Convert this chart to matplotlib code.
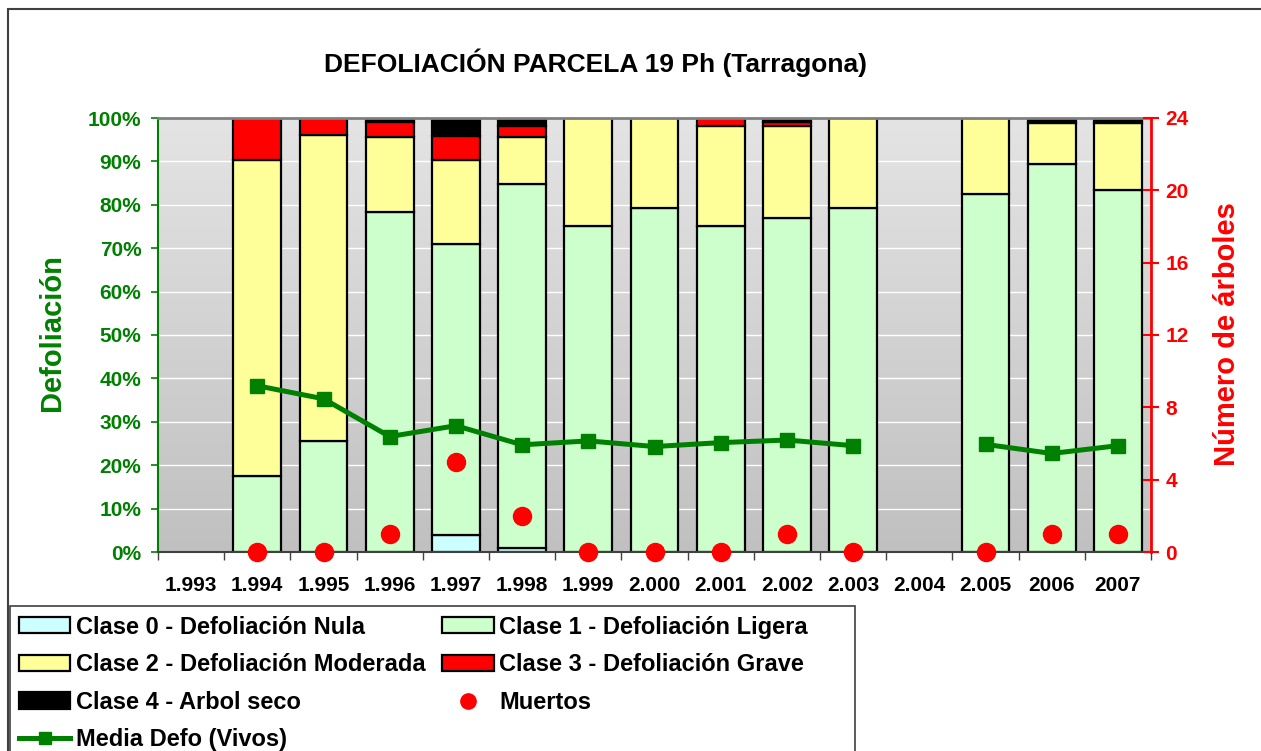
import numpy as np
import matplotlib
matplotlib.use("Agg")
import matplotlib.pyplot as plt
from matplotlib.patches import Patch, Rectangle
from matplotlib.lines import Line2D
from matplotlib.colors import LinearSegmentedColormap

plt.rcParams['font.family'] = ['Liberation Sans', 'DejaVu Sans']
plt.rcParams['font.weight'] = 'bold'

# === Data ===
years = ['1.993', '1.994', '1.995', '1.996', '1.997', '1.998', '1.999', '2.000',
         '2.001', '2.002', '2.003', '2.004', '2.005', '2006', '2007']
clase0 = [0, 0, 0, 0, 3.9, 0.9, 0, 0, 0, 0, 0, 0, 0, 0, 0]
clase1 = [0, 17.4, 25.6, 78.3, 67.1, 84.0, 75.1, 79.3, 75.1, 77.0, 79.2, 0, 82.6, 89.3, 83.4]
clase2 = [0, 73.0, 70.5, 17.4, 19.3, 10.8, 24.9, 20.7, 23.1, 21.2, 20.8, 0, 17.4, 9.6, 15.5]
clase3 = [0, 9.6, 3.9, 3.3, 5.6, 2.5, 0, 0, 1.8, 0.9, 0, 0, 0, 0, 0]
clase4 = [0, 0, 0, 1.0, 4.1, 1.8, 0, 0, 0, 0.9, 0, 0, 0, 1.1, 1.1]
media_defo = [np.nan, 38.3, 35.3, 26.6, 29.1, 24.7, 25.6, 24.3, 25.2, 25.8, 24.5,
              np.nan, 24.8, 22.7, 24.5]
muertos = [np.nan, 0, 0, 1, 5, 2, 0, 0, 0, 1, 0, np.nan, 0, 1, 1]

classes = [
    ('Clase 0 - Defoliación Nula', clase0, '#CCFFFF'),
    ('Clase 1 - Defoliación Ligera', clase1, '#CCFFCC'),
    ('Clase 2 - Defoliación Moderada', clase2, '#FFFF99'),
    ('Clase 3 - Defoliación Grave', clase3, '#FF0000'),
    ('Clase 4 - Arbol seco', clase4, '#000000'),
]

GREEN = '#008000'
RED = '#FF0000'
W, H = 1261, 751

fig = plt.figure(figsize=(W / 100, H / 100), dpi=100)
ax = fig.add_axes([158 / W, 1 - 552 / H, (1151 - 158) / W, (552 - 118) / H])
x = np.arange(len(years))

# gradient background: light at the top, darker at the bottom
grad = np.linspace(0, 1, 256).reshape(-1, 1)
cmap = LinearSegmentedColormap.from_list('bg', ['#e4e4e4', '#c0c0c0'])
ax.imshow(grad, cmap=cmap, aspect='auto', extent=(-0.5, len(years) - 0.5, 0, 100),
          zorder=0, origin='upper')
ax.set_xlim(-0.5, len(years) - 0.5)
ax.set_ylim(0, 100)
for yv in range(10, 100, 10):
    ax.axhline(yv, color='white', lw=1, zorder=1)

# stacked bars
bottom = np.zeros(len(years))
for label, vals, color in classes:
    vals = np.array(vals, dtype=float)
    mask = vals > 0
    ax.bar(x[mask], vals[mask], bottom=bottom[mask], width=0.72, color=color,
           edgecolor='black', linewidth=1.6, zorder=2)
    bottom += vals

# mean defoliation line
ax.plot(x, media_defo, color=GREEN, lw=3.6, marker='s', markersize=10,
        zorder=4, clip_on=False)

# left axis styling
ax.set_yticks(range(0, 101, 10))
ax.set_yticklabels([f'{v}%' for v in range(0, 101, 10)])
ax.tick_params(axis='y', colors=GREEN, labelsize=15, length=5, width=1.2, pad=7)
ax.set_xticks(x)
ax.set_xticklabels(years)
ax.tick_params(axis='x', which='major', length=0, labelsize=15, pad=17, labelcolor='black')
ax.set_xticks(np.arange(-0.5, len(years)), minor=True)
ax.tick_params(axis='x', which='minor', length=6, color='#404040', width=1)
ax.spines['left'].set_color(GREEN)
ax.spines['left'].set_linewidth(1.5)
ax.spines['bottom'].set_color('#404040')
ax.spines['bottom'].set_linewidth(1.5)
ax.spines['top'].set_color('#808080')
ax.spines['top'].set_linewidth(2)
ax.spines['right'].set_visible(False)

# right axis (number of trees)
ax2 = ax.twinx()
ax2.set_ylim(0, 24)
ax2.set_yticks(range(0, 25, 4))
ax2.tick_params(axis='y', colors=RED, labelsize=15, direction='inout', length=11,
                width=1.5, pad=5)
for s in ['left', 'top', 'bottom']:
    ax2.spines[s].set_visible(False)
ax2.spines['right'].set_color(RED)
ax2.spines['right'].set_linewidth(2)
ax2.plot(x, muertos, linestyle='none', marker='o', markersize=13, color=RED,
         zorder=5, clip_on=False)

for lab in ax.get_yticklabels() + ax.get_xticklabels() + ax2.get_yticklabels():
    lab.set_fontweight('bold')

# titles and axis labels
fig.text(596 / W, 1 - 63 / H, 'DEFOLIACIÓN PARCELA 19 Ph (Tarragona)', ha='center',
         va='center', fontsize=19, fontweight='bold')
fig.text(52 / W, 1 - 333 / H, 'Defoliación', rotation=90, ha='center', va='center',
         fontsize=21, fontweight='bold', color=GREEN)
fig.text(1227 / W, 1 - 334 / H, 'Número de árboles', rotation=90, ha='center',
         va='center', fontsize=21, fontweight='bold', color=RED)

# outer chart border and legend box
fig.patches.append(Rectangle((8 / W, -0.1), 1.2, 1 - 9 / H + 0.1, transform=fig.transFigure,
                             fill=False, edgecolor='#404040', lw=1.5))
fig.patches.append(Rectangle((10 / W, -0.1), (855 - 10) / W, 0.1 + 1 - 606 / H,
                             transform=fig.transFigure, facecolor='white',
                             edgecolor='#404040', lw=1.2, zorder=3))

h = {lab: Patch(facecolor=c, edgecolor='black', linewidth=1.6) for lab, _, c in classes}
h_media = Line2D([], [], color=GREEN, lw=3.6, marker='s', markersize=8)
h_muertos = Line2D([], [], color=RED, linestyle='none', marker='o', markersize=11)
names = [c[0] for c in classes]
handles = [h[names[0]], h[names[2]], h[names[4]], h_media,
           h[names[1]], h[names[3]], h_muertos]
labels = [names[0], names[2], names[4], 'Media Defo (Vivos)',
          names[1], names[3], 'Muertos']
leg = fig.legend(handles, labels, loc='upper left', bbox_to_anchor=(2 / W, 1 - 599 / H),
                 ncol=2, frameon=False, handlelength=2.2, handleheight=0.68,
                 handletextpad=0.25, columnspacing=0.66, labelspacing=0.62,
                 borderpad=0.2, prop={'weight': 'bold', 'size': 17})
leg.set_zorder(4)

fig.savefig('out.png', dpi=100)
